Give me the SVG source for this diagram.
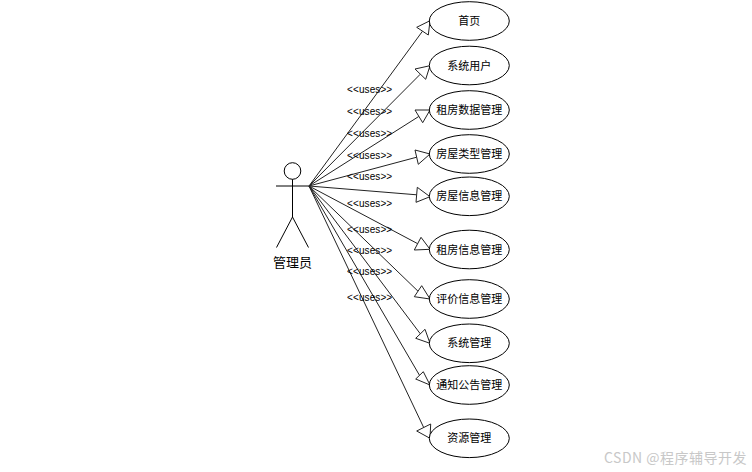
<svg xmlns="http://www.w3.org/2000/svg" width="752" height="472" viewBox="0 0 752 472">
<style>
.s{fill:none;stroke:#000;stroke-width:1}
.e{fill:#fff;stroke:#000;stroke-width:1}
.h{fill:#fff;stroke:#222;stroke-width:1}
.c{stroke:#222;stroke-width:1;fill:none}
text{font-family:"Noto Sans CJK SC","Liberation Sans",sans-serif;fill:#000}
.t{font-size:11px;text-anchor:middle}
.u{font-family:"Liberation Sans",sans-serif;font-size:10px;letter-spacing:.1px}
.w{font-size:14px;letter-spacing:.5px;fill:#c8c8c8}
</style>
<rect width="752" height="472" fill="#fff"/>
<g id="connectors">
<path class="c" d="M309 186L422.500 31.200M309 186L420.300 74.200M309 186L418.900 116.400M309 186L416.700 157.200M309 186L416.700 194.800M309 186L417.700 243.700M309 186L418 291.200M309 186L420.300 333.800M309 186L419.500 375.300M309 186L423.700 427.500"/>
<polygon class="h" points="430,20.700 416.700,27.300 428.300,35"/>
<polygon class="h" points="430,65.700 415,69 425.700,79.300"/>
<polygon class="h" points="430,110 415,110 422.700,122.700"/>
<polygon class="h" points="430,154 415,150 418.300,164.300"/>
<polygon class="h" points="430,196.700 417.300,187.300 416,202.300"/>
<polygon class="h" points="430,249.300 421,237.300 414.300,250"/>
<polygon class="h" points="430,299 421.700,285.700 414.300,296.700"/>
<polygon class="h" points="430,343.300 425,329.300 415.700,338.300"/>
<polygon class="h" points="430,385 423.300,371.700 415.700,379"/>
<polygon class="h" points="430,438.300 430.700,424 416.700,431"/>
<g id="connector-labels">
<text class="u" x="347" y="92.500">&lt;&lt;uses&gt;&gt;</text>
<text class="u" x="347" y="114.500">&lt;&lt;uses&gt;&gt;</text>
<text class="u" x="347" y="136.500">&lt;&lt;uses&gt;&gt;</text>
<text class="u" x="347" y="158.500">&lt;&lt;uses&gt;&gt;</text>
<text class="u" x="347" y="179.500">&lt;&lt;uses&gt;&gt;</text>
<text class="u" x="347" y="206.500">&lt;&lt;uses&gt;&gt;</text>
<text class="u" x="347" y="232.500">&lt;&lt;uses&gt;&gt;</text>
<text class="u" x="347" y="253.500">&lt;&lt;uses&gt;&gt;</text>
<text class="u" x="347" y="274.500">&lt;&lt;uses&gt;&gt;</text>
<text class="u" x="347" y="300.500">&lt;&lt;uses&gt;&gt;</text>
</g>
</g>
<g id="actor">
<circle class="s" cx="292.500" cy="171" r="8.300"/>
<path class="s" d="M276 186H309M292.500 179.300V217M292.500 217L276.500 247.500M292.500 217L308.500 247.500"/>
<text x="292.500" y="267" font-size="13" text-anchor="middle">管理员</text>
</g>
<g id="uc1"><ellipse class="e" cx="469.300" cy="21" rx="40" ry="19.300"/><text class="t" x="469.300" y="25">首页</text></g>
<g id="uc2"><ellipse class="e" cx="469.300" cy="65.500" rx="40" ry="19.300"/><text class="t" x="469.300" y="69.500">系统用户</text></g>
<g id="uc3"><ellipse class="e" cx="469.300" cy="110" rx="40" ry="19.300"/><text class="t" x="469.300" y="114">租房数据管理</text></g>
<g id="uc4"><ellipse class="e" cx="469.300" cy="154" rx="40" ry="19.300"/><text class="t" x="469.300" y="158">房屋类型管理</text></g>
<g id="uc5"><ellipse class="e" cx="469.300" cy="196.300" rx="40" ry="19.300"/><text class="t" x="469.300" y="200.300">房屋信息管理</text></g>
<g id="uc6"><ellipse class="e" cx="469.300" cy="249.500" rx="40" ry="19.300"/><text class="t" x="469.300" y="253.500">租房信息管理</text></g>
<g id="uc7"><ellipse class="e" cx="469.300" cy="299" rx="40" ry="19.300"/><text class="t" x="469.300" y="303">评价信息管理</text></g>
<g id="uc8"><ellipse class="e" cx="469.300" cy="343.300" rx="40" ry="19.300"/><text class="t" x="469.300" y="347.300">系统管理</text></g>
<g id="uc9"><ellipse class="e" cx="469.300" cy="385" rx="40" ry="19.300"/><text class="t" x="469.300" y="389">通知公告管理</text></g>
<g id="uc10"><ellipse class="e" cx="469.300" cy="438.300" rx="40" ry="19.300"/><text class="t" x="469.300" y="442.300">资源管理</text></g>
<text class="w" x="604" y="463">CSDN @程序辅导开发</text>
</svg>
